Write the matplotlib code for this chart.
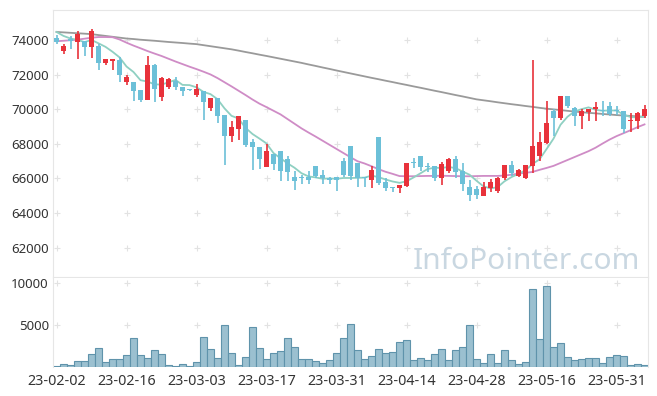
import numpy as np
import pandas as pd
from matplotlib import pyplot as plt

holidays = ['2023-03-01', '2023-05-01', '2023-05-05', '2023-05-29', '2023-06-06']
dates = [d for d in pd.bdate_range('2023-02-02', '2023-06-07') if d.strftime('%Y-%m-%d') not in holidays]

opens = [74130, 73380, 74050, 73900, 73940, 73610, 73650, 72680, 72780, 72840,
         71570, 71610, 71130, 70560, 72540, 70700, 71280, 71670, 71320, 71150,
         70850, 71050, 70080, 70640, 69690, 68470, 68890, 69380, 68130, 67830,
         66680, 67440, 67590, 67110, 66080, 66010, 66080, 66720, 66200, 65950,
         66080, 67010, 67880, 66910, 66090, 65940, 68410, 65790, 65470, 65460,
         65590, 66880, 67300, 66690, 66720, 66000, 66430, 67150, 66430, 65510,
         65400, 64970, 65460, 65260, 66000, 66780, 66140, 66040, 66720, 67300,
         68080, 69920, 69500, 70800, 70080, 69630, 69860, 70020, 69930, 70210,
         69890, 69880, 69300, 69340, 69590]
highs = [74300, 73770, 74250, 74520, 73950, 74640, 73800, 72930, 72930, 73030,
         72000, 71610, 71130, 73090, 72600, 71900, 71800, 71900, 71320, 71200,
         71440, 71050, 70640, 70640, 69690, 69340, 69640, 69380, 68270, 67830,
         67980, 67440, 67590, 67300, 66430, 66200, 66430, 66720, 66500, 66100,
         66080, 67200, 67880, 66910, 66090, 66750, 68410, 66000, 65470, 65610,
         66900, 67160, 67300, 66900, 66720, 66970, 67200, 67320, 66870, 65900,
         65560, 65800, 65990, 66100, 66800, 67000, 66530, 66780, 72840, 68700,
         70500, 70020, 70800, 70800, 70150, 70020, 70020, 70400, 70500, 70400,
         70180, 69880, 69800, 69850, 70280]
lows = [73800, 73230, 73500, 72930, 73070, 72950, 72270, 72550, 72280, 71570,
        71400, 70500, 70400, 70560, 70450, 70500, 71200, 71100, 70800, 71050,
        70740, 69380, 69920, 69240, 66780, 68120, 68230, 67800, 66470, 66540,
        66680, 66470, 65850, 65850, 65360, 65700, 65700, 66040, 65700, 65700,
        65260, 66100, 65900, 65500, 65500, 65440, 65650, 65300, 65200, 65180,
        65500, 66620, 66430, 66400, 65850, 65610, 66300, 66040, 65260, 64680,
        64810, 64970, 65230, 65160, 65940, 66150, 66060, 65980, 66330, 67000,
        68000, 68470, 69400, 70100, 69050, 68850, 69300, 69300, 69630, 69630,
        69690, 68660, 68690, 68860, 69510]
closes = [73900, 73650, 73950, 74350, 73610, 74520, 72680, 72930, 72930, 72000,
          71860, 71090, 70560, 72540, 71190, 71790, 71730, 71280, 71090, 71130,
          71150, 70400, 70640, 69630, 68470, 68990, 69630, 67940, 67840, 67140,
          67590, 66850, 66430, 66390, 65850, 66000, 65940, 66140, 66000, 65940,
          65890, 66180, 66140, 66040, 66000, 66470, 65750, 65460, 65460, 65610,
          66890, 66870, 66680, 66680, 66000, 66820, 67150, 66370, 65690, 65070,
          65070, 65510, 65790, 66040, 66780, 66290, 66470, 66780, 67880, 68120,
          69240, 69500, 70800, 70210, 69630, 69920, 70020, 70110, 69920, 69730,
          69880, 68860, 69400, 69790, 70020]
volumes = [150, 350, 240, 710, 710, 1530, 2240, 590, 940, 940,
           1420, 3420, 1420, 1060, 2000, 1530, 240, 120, 350, 120,
           590, 3540, 2120, 1060, 4960, 1650, 240, 1180, 4720, 2240,
           940, 1650, 1890, 3420, 2360, 940, 940, 710, 470, 830,
           1650, 3420, 5070, 2000, 940, 1300, 2120, 1650, 1770, 2950,
           3190, 830, 1060, 830, 1530, 2120, 830, 2000, 2360, 4960,
           940, 470, 1530, 470, 2000, 830, 350, 590, 9210, 3300,
           9600, 2360, 2830, 1180, 830, 940, 1060, 1060, 470, 1180,
           1420, 1300, 240, 350, 240]

# first 4 MA5 points need data before the window
ma5_head = [74480, 74250, 74100, 74020]
ma20 = [73940, 73970, 74000, 74035, 74090, 74145, 74185, 74185, 74175, 74045,
        73860, 73690, 73535, 73375, 73230, 73090, 72930, 72770, 72620, 72470,
        72330, 72180, 72020, 71810, 71570, 71330, 71080, 70830, 70570, 70330,
        70130, 69920, 69710, 69440, 69170, 68900, 68660, 68430, 68190, 67950,
        67710, 67470, 67230, 67000, 66870, 66710, 66540, 66390, 66270, 66140,
        66130, 66130, 66140, 66150, 66150, 66160, 66150, 66140, 66130, 66130,
        66140, 66150, 66150, 66150, 66170, 66220, 66280, 66330, 66380, 66500,
        66610, 66730, 66900, 67070, 67240, 67410, 67580, 67780, 68020, 68250,
        68450, 68620, 68790, 68970, 69130]
ma60 = [74480, 74455, 74430, 74405, 74380, 74355, 74300, 74250, 74200, 74150,
        74100, 74070, 74030, 74000, 73970, 73935, 73900, 73870, 73840, 73805,
        73775, 73715, 73655, 73595, 73535, 73475, 73400, 73320, 73245, 73165,
        73090, 73010, 72930, 72850, 72770, 72690, 72600, 72515, 72425, 72340,
        72250, 72165, 72080, 71995, 71910, 71825, 71745, 71660, 71580, 71495,
        71415, 71330, 71250, 71165, 71080, 71000, 70915, 70830, 70750, 70665,
        70580, 70525, 70470, 70410, 70355, 70300, 70250, 70195, 70145, 70090,
        70040, 70000, 69960, 69915, 69875, 69835, 69800, 69770, 69735, 69705,
        69670, 69645, 69620, 69595, 69570]

x = np.arange(len(dates))
o = np.array(opens)
c = np.array(closes)
ma5 = pd.Series(closes).rolling(5).mean().to_numpy()
ma5[:4] = ma5_head

up_color = '#e8323b'
down_color = '#6cc0d8'
colors = [up_color if cc >= oo else down_color for oo, cc in zip(o, c)]

fig = plt.figure(figsize=(6.57, 3.96), dpi=100)
ax = fig.add_axes([53 / 657, (396 - 277) / 396, 595 / 657, 267 / 396])
ax2 = fig.add_axes([53 / 657, (396 - 367) / 396, 595 / 657, 89 / 396])

font = {'family': 'Noto Sans', 'size': 9.5, 'color': '#333333'}
date_font = {'family': 'Noto Sans', 'size': 10.3, 'color': '#333333'}

# grid crosses
tick_x = x[::10]
price_ticks = np.arange(62000, 74001, 2000)
gx, gy = np.meshgrid(tick_x, price_ticks)
ax.scatter(gx.ravel(), gy.ravel(), marker='+', s=20, color='#e2e2e2', linewidths=0.8, zorder=0)

ax.text(0.987, 0.03, 'InfoPointer.com', transform=ax.transAxes, ha='right', va='baseline',
        fontsize=21.5, color='#c9d7e1', family='Noto Sans', zorder=0)

ax.plot(x, ma60, color='#9a9a9a', lw=1.3, zorder=1)
ax.plot(x, ma20, color='#cf8cc6', lw=1.3, zorder=1)
ax.plot(x, ma5, color='#8fd0c2', lw=1.3, zorder=1)

ax.vlines(x, lows, highs, colors=colors, lw=1.2, zorder=2)
heights = np.maximum(np.abs(c - o), 60)
ax.bar(x, heights, bottom=np.minimum(o, c), width=0.65, color=colors, zorder=3)

ax.set_xlim(-0.5, 84.5)
ax.set_ylim(60300, 75750)
ax.set_yticks(price_ticks)
ax.set_yticklabels([str(v) for v in price_ticks], fontdict=font)
ax.set_xticks([])
ax.tick_params(axis='y', length=0, pad=3)
for s in ax.spines.values():
    s.set_color('#e6e6e6')

vol_ticks = [5000, 10000]
gx, gy = np.meshgrid(tick_x, vol_ticks)
ax2.scatter(gx.ravel(), gy.ravel(), marker='+', s=20, color='#e2e2e2', linewidths=0.8, zorder=0)
ax2.bar(x, volumes, width=1.0, color='#9bc0d0', edgecolor='#5f93ab', lw=0.8, zorder=2)
ax2.set_xlim(-0.5, 84.5)
ax2.set_ylim(0, 10540)
ax2.set_yticks(vol_ticks)
ax2.set_yticklabels([str(v) for v in vol_ticks], fontdict=font)
ax2.set_xticks(tick_x)
ax2.set_xticklabels([dates[i].strftime('%y-%m-%d') for i in tick_x], fontdict=date_font)
ax2.tick_params(axis='y', length=0, pad=3)
ax2.tick_params(axis='x', length=0, pad=5)
for s in ax2.spines.values():
    s.set_color('#e6e6e6')
ax2.spines['bottom'].set_visible(False)
ax2.spines['top'].set_visible(False)

fig.savefig('out.png', dpi=100)
